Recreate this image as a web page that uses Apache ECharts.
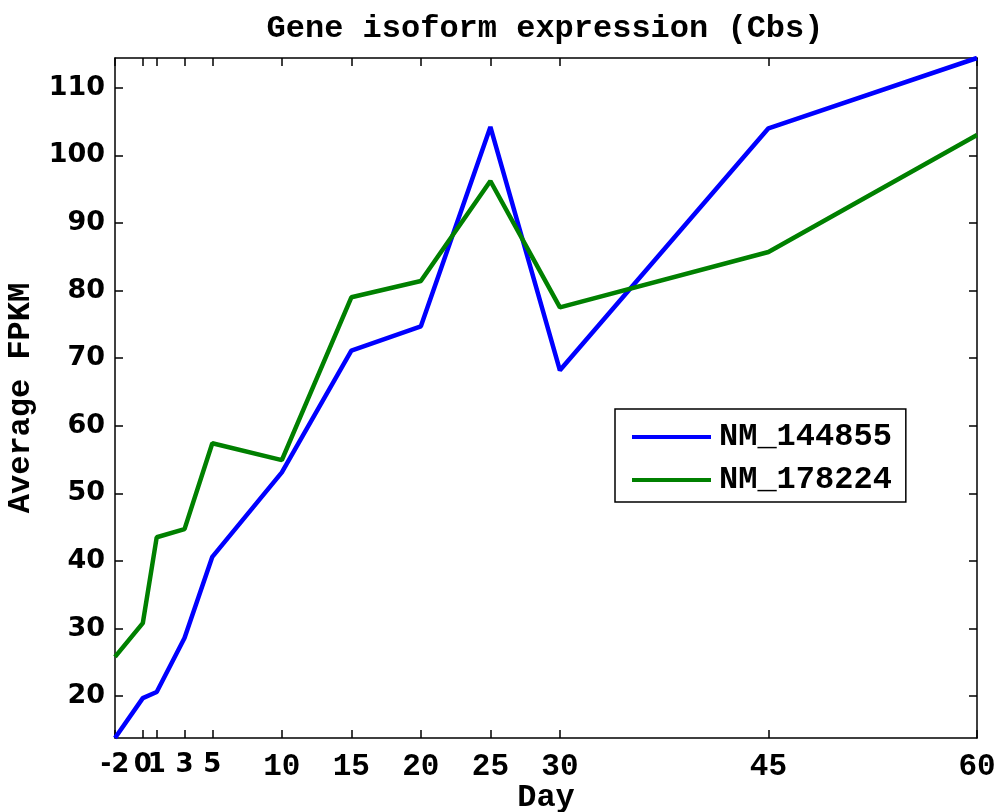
<!DOCTYPE html>
<html>
<head>
<meta charset="utf-8">
<script src="https://cdn.jsdelivr.net/npm/echarts@6/dist/echarts.min.js"></script>
<style>html,body{margin:0;padding:0;background:#fff}#c{width:1001px;height:812px}</style>
</head>
<body>
<div id="c"></div>
<script>
const days = [-2, 0, 1, 3, 5, 10, 15, 20, 25, 30, 45, 60];
const nm144855 = [13.8, 19.7, 20.6, 28.6, 40.6, 53.1, 71.1, 74.7, 104.2, 68.2, 104.0, 114.4];
const nm178224 = [25.8, 30.8, 43.5, 44.7, 57.4, 54.9, 79.0, 81.4, 96.2, 77.5, 85.7, 103.0];
const xTicks = [-2, 0, 1, 3, 5, 10, 15, 20, 25, 30, 45, 60];
const yTicks = [20, 30, 40, 50, 60, 70, 80, 90, 100, 110];
const seriesNames = ['NM_144855', 'NM_178224'];
const title = 'Gene isoform expression (Cbs)';
const xName = 'Day';
const yName = 'Average FPKM';

const MONO = '"Liberation Mono", "DejaVu Sans Mono", monospace';
const SANS = '"DejaVu Sans", sans-serif';

const chart = echarts.init(document.getElementById('c'));
const axisLine = {show: true, onZero: false, lineStyle: {color: '#000', width: 1.5}};
const tickStyle = {color: '#000', width: 1.5};
chart.setOption({
  animation: false,
  backgroundColor: '#fff',
  title: {
    text: title, left: 540, top: 8, textAlign: 'center',
    textStyle: {fontFamily: MONO, fontWeight: 'bold', fontSize: 32, color: '#000'}
  },
  grid: {left: 115, right: 24, top: 58, bottom: 74, containLabel: false, outerBoundsMode: 'none'},
  legend: {
    orient: 'vertical', left: 615, top: 409,
    data: seriesNames,
    icon: 'rect', itemWidth: 79, itemHeight: 4, itemGap: 11,
    padding: [12, 14, 6, 17],
    borderColor: '#000', borderWidth: 1.5, backgroundColor: '#fff',
    textStyle: {fontFamily: MONO, fontWeight: 'bold', fontSize: 32, color: '#000', padding: [0, 0, 0, 3]}
  },
  xAxis: [{
    type: 'value', min: -2, max: 60,
    name: xName, nameLocation: 'middle', nameGap: 44, nameMoveOverlap: false,
    nameTextStyle: {fontFamily: MONO, fontWeight: 'bold', fontSize: 32, color: '#000'},
    axisLine: axisLine,
    axisTick: {show: true, inside: true, length: 8, customValues: xTicks, lineStyle: tickStyle},
    axisLabel: {
      show: true, customValues: xTicks, margin: 14, color: '#000',
      formatter: v => (v <= 5 ? '{s|' + v + '}' : '{m|' + v + '}'),
      rich: {
        s: {fontFamily: SANS, fontWeight: 'bold', fontSize: 26, color: '#000'},
        m: {fontFamily: MONO, fontWeight: 'bold', fontSize: 31, color: '#000'}
      }
    },
    splitLine: {show: false}
  }, {
    type: 'value', min: -2, max: 60, position: 'top',
    axisLine: axisLine,
    axisTick: {show: true, inside: true, length: 8, customValues: xTicks, lineStyle: tickStyle},
    axisLabel: {show: false},
    splitLine: {show: false}
  }],
  yAxis: [{
    type: 'value', min: 13.8, max: 114.4,
    name: yName, nameLocation: 'middle', nameGap: 78, nameRotate: 90, nameMoveOverlap: false,
    nameTextStyle: {fontFamily: MONO, fontWeight: 'bold', fontSize: 32, color: '#000'},
    axisLine: axisLine,
    axisTick: {show: true, inside: true, length: 8, customValues: yTicks, lineStyle: tickStyle},
    axisLabel: {show: true, customValues: yTicks, margin: 10, fontFamily: SANS, fontWeight: 'bold', fontSize: 27, color: '#000'},
    splitLine: {show: false}
  }, {
    type: 'value', min: 13.8, max: 114.4, position: 'right',
    axisLine: axisLine,
    axisTick: {show: true, inside: true, length: 8, customValues: yTicks, lineStyle: tickStyle},
    axisLabel: {show: false},
    splitLine: {show: false}
  }],
  series: [{
    name: seriesNames[0], type: 'line', showSymbol: false, symbol: 'none',
    data: days.map((d, i) => [d, nm144855[i]]),
    lineStyle: {color: '#0000ff', width: 4.5}, itemStyle: {color: '#0000ff'}
  }, {
    name: seriesNames[1], type: 'line', showSymbol: false, symbol: 'none',
    data: days.map((d, i) => [d, nm178224[i]]),
    lineStyle: {color: '#008000', width: 4.5}, itemStyle: {color: '#008000'}
  }]
});
</script>
</body>
</html>
